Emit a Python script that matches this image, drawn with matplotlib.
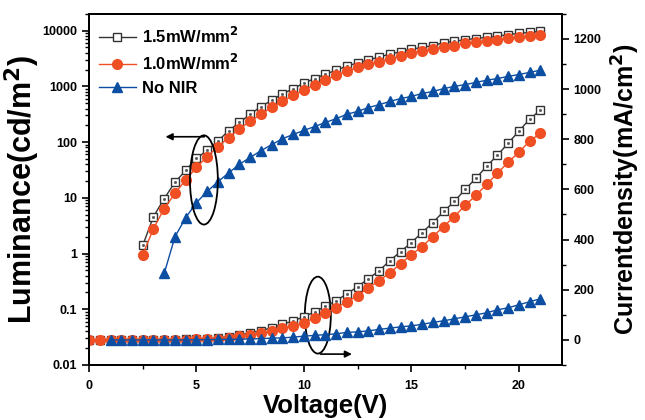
import matplotlib
matplotlib.use("Agg")
import matplotlib.pyplot as plt
import numpy as np
from matplotlib.patches import Ellipse
from matplotlib.ticker import MultipleLocator, LogLocator, FixedLocator, NullFormatter

plt.rcParams['font.family'] = ['Liberation Sans', 'DejaVu Sans']
plt.rcParams['font.weight'] = 'bold'

# ---- data ----
v_lum_a = [2.5 + 0.5 * i for i in range(38)]
lum_15 = [1.4, 4.6, 9.7, 19, 31, 51, 71, 105, 160, 225,
          315, 435, 560, 730, 910, 1150, 1380, 1650, 1950, 2300,
          2650, 2950, 3400, 3750, 4200, 4650, 5000, 5400, 6100, 6400,
          6900, 7200, 7550, 7900, 8500, 8900, 9300, 9700]
lum_10 = [0.95, 2.8, 6.4, 12, 21, 35, 55, 83, 120, 175,
          235, 315, 420, 535, 690, 850, 1075, 1290, 1580, 1860,
          2180, 2470, 2700, 3160, 3450, 3900, 4250, 4600, 5000, 5400,
          5900, 6200, 6450, 6900, 7250, 7600, 7900, 8200]
v_lum_b = [3.5 + 0.5 * i for i in range(36)]
lum_no = [0.44, 2.0, 4.4, 8.2, 13, 19.5, 28, 40,
          53, 70, 90, 115, 137, 162, 190, 225,
          263, 316, 355, 417, 468, 537, 603, 660,
          745, 810, 910, 1000, 1075, 1175, 1290, 1380, 1510, 1630, 1780, 1950]

v_cur_a = [0.5 * i for i in range(43)]
cur_15 = [0, 0, 0, 0, 0, 0, 0, 0, 1, 2, 3, 5, 8, 13,
          20, 28, 37, 48, 62, 76, 92, 112,
          134, 156, 184, 212, 244, 276, 316, 352, 388, 428, 468, 512,
          552, 600, 644, 692, 736, 784, 832, 880, 916]
cur_10 = [0, 0, 0, 0, 0, 0, 0, 0, 0, 1, 2, 3, 5, 9,
          14, 20, 27, 36, 46, 56, 68, 88,
          106, 128, 152, 176, 208, 236, 268, 304, 340, 372, 412, 452,
          492, 536, 576, 620, 664, 708, 748, 792, 824]
v_cur_b = [1.0 + 0.5 * i for i in range(41)]
cur_no = [0, 0, 0, 0, 0, 0, 0, 0, 1, 1, 2, 2,
          3, 4, 5, 7, 8, 11, 15, 18,
          21, 24, 30, 32, 36, 42, 47, 52, 56, 62, 70, 76,
          84, 92, 100, 108, 120, 128, 140, 152, 164]

labels = ['1.5mW/mm$^\\mathbf{2}$', '1.0mW/mm$^\\mathbf{2}$', 'No NIR']

c_sq = '#333333'
c_ci = '#F04E23'
c_tr = '#0B4EA2'

fig = plt.figure(figsize=(6.45, 4.2), dpi=100)
ax = fig.add_axes([0.138, 0.131, 0.733, 0.836])
ax2 = ax.twinx()

sq_kw = dict(color=c_sq, marker='s', markersize=6.3, markerfacecolor='white',
             markeredgecolor=c_sq, markeredgewidth=1.0, linewidth=1.0)
ci_kw = dict(color=c_ci, marker='o', markersize=7, markerfacecolor=c_ci,
             markeredgecolor=c_ci, linewidth=1.0)
tr_kw = dict(color=c_tr, marker='^', markersize=7.5, markerfacecolor=c_tr,
             markeredgecolor=c_tr, linewidth=1.0)

l1, = ax.plot(v_lum_a, lum_15, label=labels[0], **sq_kw)
ax.plot(v_lum_a, lum_15, linestyle='none', marker='s', markersize=1, color='#555555')
l2, = ax.plot(v_lum_a, lum_10, label=labels[1], **ci_kw)
l3, = ax.plot(v_lum_b, lum_no, label=labels[2], **tr_kw)

ax2.plot(v_cur_a, cur_15, **sq_kw)
ax2.plot(v_cur_a, cur_15, linestyle='none', marker='s', markersize=1, color='#555555')
ax2.plot(v_cur_a, cur_10, **ci_kw)
ax2.plot(v_cur_b, cur_no, **tr_kw)

ax.set_yscale('log')
ax.set_ylim(0.01, 20000)
ax.set_xlim(0, 22)
ax2.set_ylim(-100, 1300)

ax.set_yticks([0.01, 0.1, 1, 10, 100, 1000, 10000])
ax.set_yticklabels(['0.01', '0.1', '1', '10', '100', '1000', '10000'])
ax.yaxis.set_minor_locator(LogLocator(base=10, subs=np.arange(2, 10)))
ax.yaxis.set_minor_formatter(NullFormatter())
ax.xaxis.set_major_locator(MultipleLocator(5))
ax.xaxis.set_minor_locator(MultipleLocator(2.5))
ax2.yaxis.set_major_locator(FixedLocator([0, 200, 400, 600, 800, 1000, 1200]))
ax2.yaxis.set_minor_locator(FixedLocator([-100, 100, 300, 500, 700, 900, 1100, 1300]))

for a in (ax, ax2):
    a.tick_params(which='major', direction='out', length=5, width=1.2, labelsize=9)
    a.tick_params(which='minor', direction='out', length=3, width=1.0)
    for s in a.spines.values():
        s.set_linewidth(1.4)
ax.tick_params(axis='x', pad=6)
for t in ax.get_xticklabels() + ax.get_yticklabels() + ax2.get_yticklabels():
    t.set_fontweight('bold')

ax.set_xlabel('Voltage(V)', fontsize=18.5, fontweight='bold', labelpad=1)
ax.set_ylabel('Luminance(cd/m$^\\mathbf{2}$)', fontsize=22, fontweight='bold', labelpad=0)
ax2.set_ylabel('Currentdensity(mA/cm$^\\mathbf{2}$)', fontsize=18, fontweight='bold', labelpad=6)

leg = ax.legend(handles=[l1, l2, l3], loc='upper left', frameon=False,
                prop={'weight': 'bold', 'size': 12}, handlelength=2.2,
                borderaxespad=0.2, labelspacing=0.45, handletextpad=0.4,
                bbox_to_anchor=(0.0, 0.995))

# annotations: ellipses and arrows
ax.add_patch(Ellipse((0.243, 0.527), 0.059, 0.254, transform=ax.transAxes,
                     fill=False, edgecolor='black', linewidth=1.3, zorder=5))
ax.add_patch(Ellipse((0.484, 0.142), 0.055, 0.219, transform=ax.transAxes,
                     fill=False, edgecolor='black', linewidth=1.3, zorder=5))
ax.annotate('', xy=(0.156, 0.650), xytext=(0.25, 0.650), xycoords='axes fraction',
            arrowprops=dict(arrowstyle='-|>', color='black', lw=1.2, mutation_scale=10))
ax.annotate('', xy=(0.562, 0.031), xytext=(0.484, 0.031), xycoords='axes fraction',
            arrowprops=dict(arrowstyle='-|>', color='black', lw=1.2, mutation_scale=10))

fig.savefig('out.png', dpi=100)
